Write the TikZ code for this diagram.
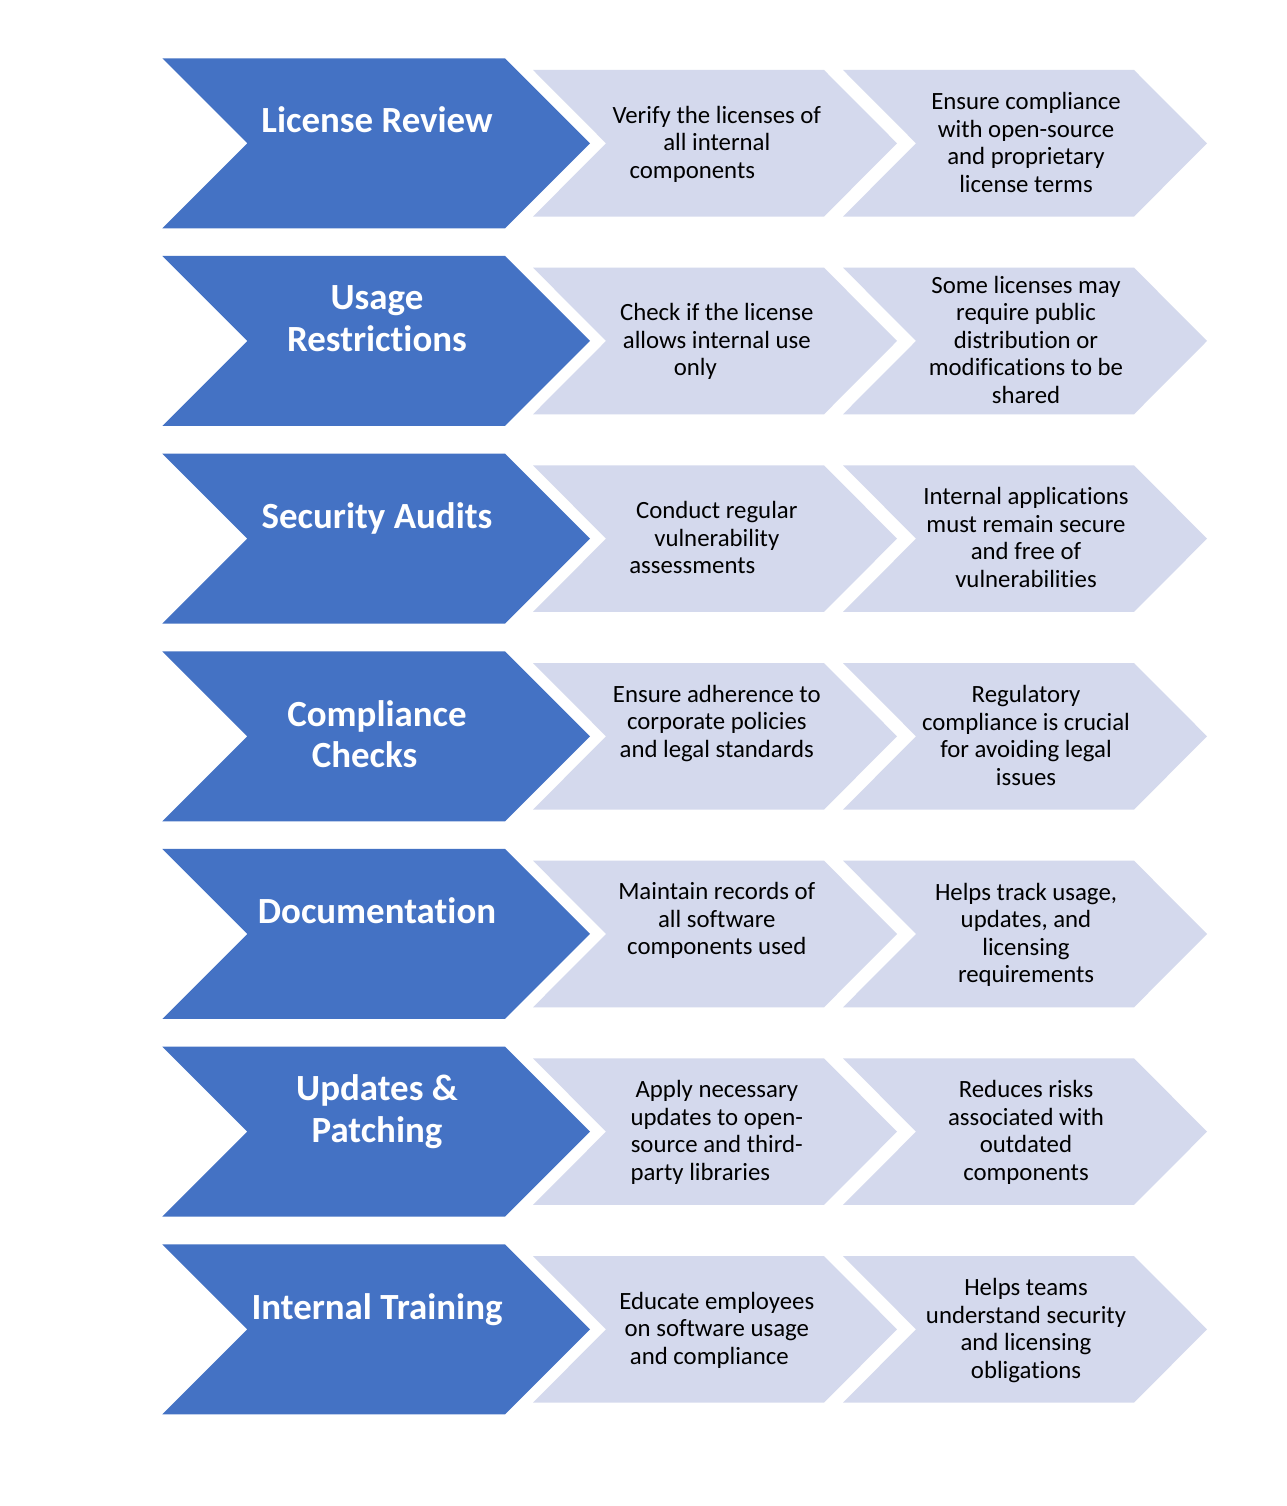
\documentclass[tikz,border=0pt]{standalone}
\usepackage{fontspec}
\setmainfont[Ligatures=NoCommon]{Carlito}
\definecolor{chevblue}{HTML}{4472C4}
\definecolor{chevlight}{HTML}{D4D9ED}
\newcommand\ChevRow[6]{%
  \pgfmathsetmacro\T{58.3+197.67*#1}%
  \pgfmathsetmacro\C{\T+85}%
  \fill[bigchev] (162.3,\T) -- (505,\T) -- (590,\C) -- (505,\T+170) -- (162.3,\T+170) -- (247.3,\C) -- cycle;
  \fill[smallchev] (533,\T+11.7) -- (824,\T+11.7) -- (897,\C) -- (824,\T+158.3) -- (533,\T+158.3) -- (606,\C) -- cycle;
  \fill[smallchev] (843,\T+11.7) -- (1134,\T+11.7) -- (1207,\C) -- (1134,\T+158.3) -- (843,\T+158.3) -- (916,\C) -- cycle;
  \node[titletext] (title#1) at (377,\C+#2+3.7) {\begin{tabular}{@{}c@{}}#3\end{tabular}};
  \node[desctext] (descA#1) at (716.8,\C+#4+2.5) {\begin{tabular}{@{}c@{}}#5\end{tabular}};
  \node[desctext] (descB#1) at (1026,\C+2) {\begin{tabular}{@{}c@{}}#6\end{tabular}};
}
\begin{document}
\begin{tikzpicture}[x=1pt,y=-1pt,
  titletext/.style={text=white,font=\fontsize{36.9}{41.3}\selectfont\bfseries,inner sep=0pt},
  desctext/.style={text=black,font=\fontsize{24.8}{27.5}\selectfont,inner sep=0pt},
  bigchev/.style={fill=chevblue},
  smallchev/.style={fill=chevlight}]
\useasboundingbox[fill=white] (0,0) rectangle (1286,1506);
\ChevRow{0}{-22.7}{License Review}{-0.5}{Verify the licenses of\\all internal\\components\hspace*{49pt}}{Ensure compliance\\with open-source\\and proprietary\\license terms}
\ChevRow{1}{-22.5}{Usage\\Restrictions}{-0.5}{Check if the license\\allows internal use\\only\hspace*{43pt}}{Some licenses may\\require public\\distribution or\\modifications to be\\shared}
\ChevRow{2}{-22.6}{Security Audits}{-0.5}{Conduct regular\\vulnerability\\assessments\hspace*{49pt}}{Internal applications\\must remain secure\\and free of\\vulnerabilities}
\ChevRow{3}{-1.6}{Compliance\\Checks\hspace*{25pt}}{-14.5}{Ensure adherence to\\corporate policies\\and legal standards}{Regulatory\\compliance is crucial\\for avoiding legal\\issues}
\ChevRow{4}{-22}{Documentation}{-14.5}{Maintain records of\\all software\\components used}{Helps track usage,\\updates, and\\licensing\\requirements}
\ChevRow{5}{-22}{Updates \&\\Patching}{-0.5}{Apply necessary\\updates to open-\\source and third-\\party libraries\hspace*{33pt}}{Reduces risks\\associated with\\outdated\\components}
\ChevRow{6}{-22}{Internal Training}{-0.5}{Educate employees\\on software usage\\and compliance\hspace*{15pt}}{Helps teams\\understand security\\and licensing\\obligations}
\end{tikzpicture}
\end{document}
